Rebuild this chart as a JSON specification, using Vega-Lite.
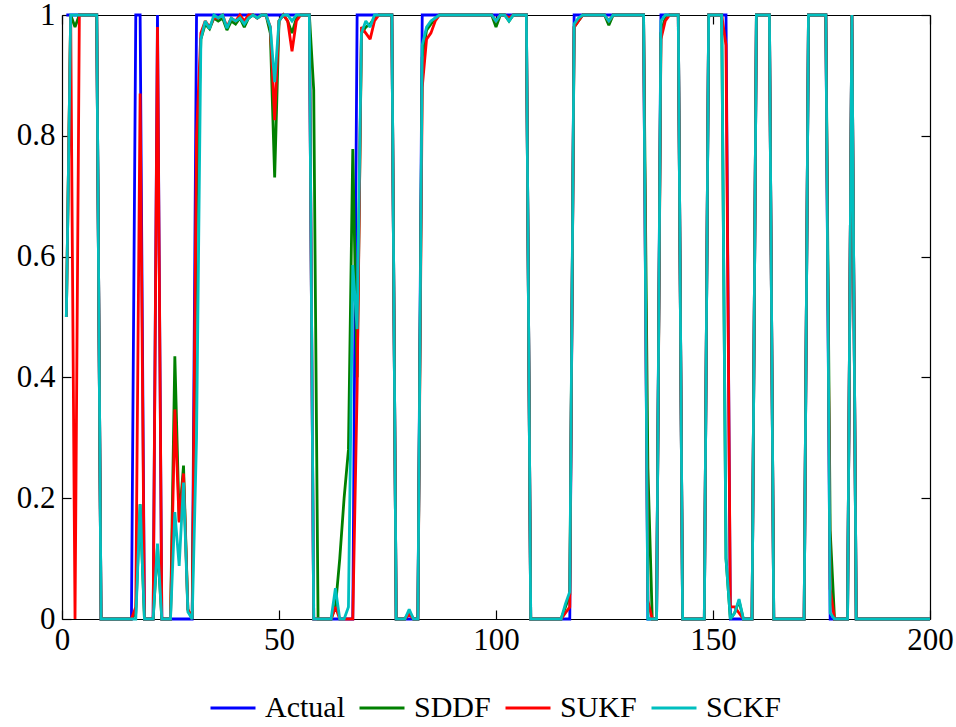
{
  "$schema": "https://vega.github.io/schema/vega-lite/v6.json",
  "autosize": "none",
  "width": 868,
  "height": 604,
  "padding": {"left": 62, "top": 15, "right": 26, "bottom": 108},
  "background": "white",
  "config": {
    "view": {"stroke": null},
    "font": "Liberation Serif",
    "axis": {"labelFont": "Liberation Serif", "labelFontSize": 31, "labelColor": "black", "domainColor": "black", "tickColor": "black", "domainWidth": 1.2, "tickWidth": 1.2, "grid": false, "title": null}
  },
  "data": {"values": [
    {"x":1,"Actual":1,"SDDF":0.5,"SUKF":0.5,"SCKF":0.5},
    {"x":2,"Actual":1,"SDDF":1,"SUKF":1,"SCKF":1},
    {"x":3,"Actual":1,"SDDF":0.98,"SUKF":0,"SCKF":1},
    {"x":4,"Actual":1,"SDDF":1,"SUKF":1,"SCKF":1},
    {"x":5,"Actual":1,"SDDF":1,"SUKF":1,"SCKF":1},
    {"x":6,"Actual":1,"SDDF":1,"SUKF":1,"SCKF":1},
    {"x":7,"Actual":1,"SDDF":1,"SUKF":1,"SCKF":1},
    {"x":8,"Actual":1,"SDDF":1,"SUKF":1,"SCKF":1},
    {"x":9,"Actual":0,"SDDF":0,"SUKF":0,"SCKF":0},
    {"x":10,"Actual":0,"SDDF":0,"SUKF":0,"SCKF":0},
    {"x":11,"Actual":0,"SDDF":0,"SUKF":0,"SCKF":0},
    {"x":12,"Actual":0,"SDDF":0,"SUKF":0,"SCKF":0},
    {"x":13,"Actual":0,"SDDF":0,"SUKF":0,"SCKF":0},
    {"x":14,"Actual":0,"SDDF":0,"SUKF":0,"SCKF":0},
    {"x":15,"Actual":0,"SDDF":0,"SUKF":0,"SCKF":0},
    {"x":16,"Actual":0,"SDDF":0,"SUKF":0,"SCKF":0},
    {"x":17,"Actual":1,"SDDF":0.01,"SUKF":0.02,"SCKF":0},
    {"x":18,"Actual":1,"SDDF":0.19,"SUKF":0.87,"SCKF":0.19},
    {"x":19,"Actual":0,"SDDF":0,"SUKF":0,"SCKF":0},
    {"x":20,"Actual":0,"SDDF":0,"SUKF":0,"SCKF":0},
    {"x":21,"Actual":0,"SDDF":0,"SUKF":0,"SCKF":0},
    {"x":22,"Actual":1,"SDDF":0.12,"SUKF":0.98,"SCKF":0.125},
    {"x":23,"Actual":0,"SDDF":0,"SUKF":0,"SCKF":0},
    {"x":24,"Actual":0,"SDDF":0,"SUKF":0,"SCKF":0},
    {"x":25,"Actual":0,"SDDF":0,"SUKF":0,"SCKF":0},
    {"x":26,"Actual":0,"SDDF":0.435,"SUKF":0.347,"SCKF":0.177},
    {"x":27,"Actual":0,"SDDF":0.162,"SUKF":0.16,"SCKF":0.088},
    {"x":28,"Actual":0,"SDDF":0.254,"SUKF":0.241,"SCKF":0.226},
    {"x":29,"Actual":0,"SDDF":0.016,"SUKF":0.016,"SCKF":0.012},
    {"x":30,"Actual":0,"SDDF":0,"SUKF":0,"SCKF":0},
    {"x":31,"Actual":1,"SDDF":0.7,"SUKF":0.8,"SCKF":0.3},
    {"x":32,"Actual":1,"SDDF":0.96,"SUKF":0.97,"SCKF":0.96},
    {"x":33,"Actual":1,"SDDF":0.985,"SUKF":0.99,"SCKF":0.99},
    {"x":34,"Actual":1,"SDDF":0.977,"SUKF":0.98,"SCKF":0.977},
    {"x":35,"Actual":1,"SDDF":0.995,"SUKF":0.995,"SCKF":1},
    {"x":36,"Actual":1,"SDDF":0.99,"SUKF":0.995,"SCKF":0.995},
    {"x":37,"Actual":1,"SDDF":0.995,"SUKF":1,"SCKF":1},
    {"x":38,"Actual":1,"SDDF":0.975,"SUKF":0.98,"SCKF":0.978},
    {"x":39,"Actual":1,"SDDF":0.99,"SUKF":0.995,"SCKF":0.995},
    {"x":40,"Actual":1,"SDDF":0.985,"SUKF":0.99,"SCKF":0.99},
    {"x":41,"Actual":1,"SDDF":0.995,"SUKF":1,"SCKF":0.995},
    {"x":42,"Actual":1,"SDDF":0.98,"SUKF":0.99,"SCKF":0.985},
    {"x":43,"Actual":1,"SDDF":0.995,"SUKF":1,"SCKF":0.995},
    {"x":44,"Actual":1,"SDDF":1,"SUKF":1,"SCKF":1},
    {"x":45,"Actual":1,"SDDF":0.995,"SUKF":0.995,"SCKF":0.995},
    {"x":46,"Actual":1,"SDDF":1,"SUKF":1,"SCKF":1},
    {"x":47,"Actual":1,"SDDF":1,"SUKF":1,"SCKF":1},
    {"x":48,"Actual":1,"SDDF":0.97,"SUKF":0.98,"SCKF":0.98},
    {"x":49,"Actual":1,"SDDF":0.731,"SUKF":0.826,"SCKF":0.889},
    {"x":50,"Actual":1,"SDDF":0.99,"SUKF":0.99,"SCKF":0.99},
    {"x":51,"Actual":1,"SDDF":1,"SUKF":1,"SCKF":1},
    {"x":52,"Actual":1,"SDDF":0.99,"SUKF":0.99,"SCKF":1},
    {"x":53,"Actual":1,"SDDF":0.97,"SUKF":0.94,"SCKF":0.99},
    {"x":54,"Actual":1,"SDDF":0.995,"SUKF":0.99,"SCKF":1},
    {"x":55,"Actual":1,"SDDF":1,"SUKF":1,"SCKF":1},
    {"x":56,"Actual":1,"SDDF":1,"SUKF":1,"SCKF":1},
    {"x":57,"Actual":1,"SDDF":1,"SUKF":1,"SCKF":1},
    {"x":58,"Actual":0,"SDDF":0.876,"SUKF":0,"SCKF":0},
    {"x":59,"Actual":0,"SDDF":0,"SUKF":0,"SCKF":0},
    {"x":60,"Actual":0,"SDDF":0,"SUKF":0,"SCKF":0},
    {"x":61,"Actual":0,"SDDF":0,"SUKF":0,"SCKF":0},
    {"x":62,"Actual":0,"SDDF":0,"SUKF":0,"SCKF":0},
    {"x":63,"Actual":0,"SDDF":0.02,"SUKF":0.02,"SCKF":0.051},
    {"x":64,"Actual":0,"SDDF":0.1,"SUKF":0,"SCKF":0},
    {"x":65,"Actual":0,"SDDF":0.2,"SUKF":0,"SCKF":0},
    {"x":66,"Actual":0,"SDDF":0.28,"SUKF":0,"SCKF":0.02},
    {"x":67,"Actual":0,"SDDF":0.778,"SUKF":0,"SCKF":0.586},
    {"x":68,"Actual":1,"SDDF":0.4,"SUKF":0.38,"SCKF":0.48},
    {"x":69,"Actual":1,"SDDF":0.97,"SUKF":0.98,"SCKF":0.97},
    {"x":70,"Actual":1,"SDDF":0.98,"SUKF":0.97,"SCKF":0.99},
    {"x":71,"Actual":1,"SDDF":0.985,"SUKF":0.96,"SCKF":0.98},
    {"x":72,"Actual":1,"SDDF":0.995,"SUKF":0.99,"SCKF":1},
    {"x":73,"Actual":1,"SDDF":1,"SUKF":1,"SCKF":1},
    {"x":74,"Actual":1,"SDDF":1,"SUKF":1,"SCKF":1},
    {"x":75,"Actual":1,"SDDF":1,"SUKF":1,"SCKF":1},
    {"x":76,"Actual":1,"SDDF":1,"SUKF":1,"SCKF":1},
    {"x":77,"Actual":0,"SDDF":0,"SUKF":0,"SCKF":0},
    {"x":78,"Actual":0,"SDDF":0,"SUKF":0,"SCKF":0},
    {"x":79,"Actual":0,"SDDF":0,"SUKF":0,"SCKF":0},
    {"x":80,"Actual":0,"SDDF":0.012,"SUKF":0.008,"SCKF":0.016},
    {"x":81,"Actual":0,"SDDF":0,"SUKF":0,"SCKF":0},
    {"x":82,"Actual":0,"SDDF":0,"SUKF":0,"SCKF":0},
    {"x":83,"Actual":1,"SDDF":0.93,"SUKF":0.88,"SCKF":0.95},
    {"x":84,"Actual":1,"SDDF":0.975,"SUKF":0.96,"SCKF":0.98},
    {"x":85,"Actual":1,"SDDF":0.985,"SUKF":0.97,"SCKF":0.99},
    {"x":86,"Actual":1,"SDDF":0.995,"SUKF":0.99,"SCKF":0.995},
    {"x":87,"Actual":1,"SDDF":1,"SUKF":1,"SCKF":1},
    {"x":88,"Actual":1,"SDDF":1,"SUKF":1,"SCKF":1},
    {"x":89,"Actual":1,"SDDF":1,"SUKF":1,"SCKF":1},
    {"x":90,"Actual":1,"SDDF":1,"SUKF":1,"SCKF":1},
    {"x":91,"Actual":1,"SDDF":1,"SUKF":1,"SCKF":1},
    {"x":92,"Actual":1,"SDDF":1,"SUKF":1,"SCKF":1},
    {"x":93,"Actual":1,"SDDF":1,"SUKF":1,"SCKF":1},
    {"x":94,"Actual":1,"SDDF":1,"SUKF":1,"SCKF":1},
    {"x":95,"Actual":1,"SDDF":1,"SUKF":1,"SCKF":1},
    {"x":96,"Actual":1,"SDDF":1,"SUKF":1,"SCKF":1},
    {"x":97,"Actual":1,"SDDF":1,"SUKF":1,"SCKF":1},
    {"x":98,"Actual":1,"SDDF":1,"SUKF":1,"SCKF":1},
    {"x":99,"Actual":1,"SDDF":1,"SUKF":1,"SCKF":1},
    {"x":100,"Actual":1,"SDDF":0.98,"SUKF":0.99,"SCKF":0.99},
    {"x":101,"Actual":1,"SDDF":1,"SUKF":1,"SCKF":1},
    {"x":102,"Actual":1,"SDDF":1,"SUKF":1,"SCKF":1},
    {"x":103,"Actual":1,"SDDF":0.99,"SUKF":0.995,"SCKF":0.99},
    {"x":104,"Actual":1,"SDDF":1,"SUKF":1,"SCKF":1},
    {"x":105,"Actual":1,"SDDF":1,"SUKF":1,"SCKF":1},
    {"x":106,"Actual":1,"SDDF":1,"SUKF":1,"SCKF":1},
    {"x":107,"Actual":1,"SDDF":1,"SUKF":1,"SCKF":1},
    {"x":108,"Actual":0,"SDDF":0,"SUKF":0,"SCKF":0},
    {"x":109,"Actual":0,"SDDF":0,"SUKF":0,"SCKF":0},
    {"x":110,"Actual":0,"SDDF":0,"SUKF":0,"SCKF":0},
    {"x":111,"Actual":0,"SDDF":0,"SUKF":0,"SCKF":0},
    {"x":112,"Actual":0,"SDDF":0,"SUKF":0,"SCKF":0},
    {"x":113,"Actual":0,"SDDF":0,"SUKF":0,"SCKF":0},
    {"x":114,"Actual":0,"SDDF":0,"SUKF":0,"SCKF":0},
    {"x":115,"Actual":0,"SDDF":0,"SUKF":0,"SCKF":0},
    {"x":116,"Actual":0,"SDDF":0.02,"SUKF":0.01,"SCKF":0.025},
    {"x":117,"Actual":0,"SDDF":0.04,"SUKF":0.02,"SCKF":0.045},
    {"x":118,"Actual":1,"SDDF":0.98,"SUKF":0.98,"SCKF":0.985},
    {"x":119,"Actual":1,"SDDF":0.99,"SUKF":0.99,"SCKF":0.995},
    {"x":120,"Actual":1,"SDDF":1,"SUKF":1,"SCKF":1},
    {"x":121,"Actual":1,"SDDF":1,"SUKF":1,"SCKF":1},
    {"x":122,"Actual":1,"SDDF":1,"SUKF":1,"SCKF":1},
    {"x":123,"Actual":1,"SDDF":1,"SUKF":1,"SCKF":1},
    {"x":124,"Actual":1,"SDDF":1,"SUKF":1,"SCKF":1},
    {"x":125,"Actual":1,"SDDF":1,"SUKF":1,"SCKF":1},
    {"x":126,"Actual":1,"SDDF":0.983,"SUKF":0.99,"SCKF":0.99},
    {"x":127,"Actual":1,"SDDF":1,"SUKF":1,"SCKF":1},
    {"x":128,"Actual":1,"SDDF":1,"SUKF":1,"SCKF":1},
    {"x":129,"Actual":1,"SDDF":1,"SUKF":1,"SCKF":1},
    {"x":130,"Actual":1,"SDDF":1,"SUKF":1,"SCKF":1},
    {"x":131,"Actual":1,"SDDF":1,"SUKF":1,"SCKF":1},
    {"x":132,"Actual":1,"SDDF":1,"SUKF":1,"SCKF":1},
    {"x":133,"Actual":1,"SDDF":1,"SUKF":1,"SCKF":1},
    {"x":134,"Actual":1,"SDDF":1,"SUKF":1,"SCKF":1},
    {"x":135,"Actual":0,"SDDF":0.25,"SUKF":0.03,"SCKF":0},
    {"x":136,"Actual":0,"SDDF":0,"SUKF":0,"SCKF":0},
    {"x":137,"Actual":0,"SDDF":0,"SUKF":0,"SCKF":0},
    {"x":138,"Actual":1,"SDDF":0.97,"SUKF":0.96,"SCKF":0.99},
    {"x":139,"Actual":1,"SDDF":0.995,"SUKF":0.99,"SCKF":1},
    {"x":140,"Actual":1,"SDDF":1,"SUKF":1,"SCKF":1},
    {"x":141,"Actual":1,"SDDF":1,"SUKF":1,"SCKF":1},
    {"x":142,"Actual":1,"SDDF":1,"SUKF":1,"SCKF":1},
    {"x":143,"Actual":0,"SDDF":0,"SUKF":0,"SCKF":0},
    {"x":144,"Actual":0,"SDDF":0,"SUKF":0,"SCKF":0},
    {"x":145,"Actual":0,"SDDF":0,"SUKF":0,"SCKF":0},
    {"x":146,"Actual":0,"SDDF":0,"SUKF":0,"SCKF":0},
    {"x":147,"Actual":0,"SDDF":0,"SUKF":0,"SCKF":0},
    {"x":148,"Actual":0,"SDDF":0,"SUKF":0,"SCKF":0},
    {"x":149,"Actual":1,"SDDF":1,"SUKF":1,"SCKF":1},
    {"x":150,"Actual":1,"SDDF":1,"SUKF":1,"SCKF":1},
    {"x":151,"Actual":1,"SDDF":1,"SUKF":1,"SCKF":1},
    {"x":152,"Actual":1,"SDDF":1,"SUKF":1,"SCKF":1},
    {"x":153,"Actual":1,"SDDF":0.1,"SUKF":0.95,"SCKF":0.1},
    {"x":154,"Actual":0,"SDDF":0,"SUKF":0.02,"SCKF":0},
    {"x":155,"Actual":0,"SDDF":0.01,"SUKF":0.02,"SCKF":0.01},
    {"x":156,"Actual":0,"SDDF":0.03,"SUKF":0.01,"SCKF":0.033},
    {"x":157,"Actual":0,"SDDF":0,"SUKF":0,"SCKF":0},
    {"x":158,"Actual":0,"SDDF":0,"SUKF":0,"SCKF":0},
    {"x":159,"Actual":0,"SDDF":0,"SUKF":0,"SCKF":0},
    {"x":160,"Actual":1,"SDDF":1,"SUKF":1,"SCKF":1},
    {"x":161,"Actual":1,"SDDF":1,"SUKF":1,"SCKF":1},
    {"x":162,"Actual":1,"SDDF":1,"SUKF":1,"SCKF":1},
    {"x":163,"Actual":1,"SDDF":1,"SUKF":1,"SCKF":1},
    {"x":164,"Actual":0,"SDDF":0,"SUKF":0,"SCKF":0},
    {"x":165,"Actual":0,"SDDF":0,"SUKF":0,"SCKF":0},
    {"x":166,"Actual":0,"SDDF":0,"SUKF":0,"SCKF":0},
    {"x":167,"Actual":0,"SDDF":0,"SUKF":0,"SCKF":0},
    {"x":168,"Actual":0,"SDDF":0,"SUKF":0,"SCKF":0},
    {"x":169,"Actual":0,"SDDF":0,"SUKF":0,"SCKF":0},
    {"x":170,"Actual":0,"SDDF":0,"SUKF":0,"SCKF":0},
    {"x":171,"Actual":0,"SDDF":0,"SUKF":0,"SCKF":0},
    {"x":172,"Actual":1,"SDDF":1,"SUKF":1,"SCKF":1},
    {"x":173,"Actual":1,"SDDF":1,"SUKF":1,"SCKF":1},
    {"x":174,"Actual":1,"SDDF":1,"SUKF":1,"SCKF":1},
    {"x":175,"Actual":1,"SDDF":1,"SUKF":1,"SCKF":1},
    {"x":176,"Actual":1,"SDDF":1,"SUKF":1,"SCKF":1},
    {"x":177,"Actual":0,"SDDF":0.147,"SUKF":0.05,"SCKF":0.01},
    {"x":178,"Actual":0,"SDDF":0,"SUKF":0,"SCKF":0},
    {"x":179,"Actual":0,"SDDF":0,"SUKF":0,"SCKF":0},
    {"x":180,"Actual":0,"SDDF":0,"SUKF":0,"SCKF":0},
    {"x":181,"Actual":0,"SDDF":0,"SUKF":0,"SCKF":0},
    {"x":182,"Actual":1,"SDDF":1,"SUKF":1,"SCKF":1},
    {"x":183,"Actual":0,"SDDF":0,"SUKF":0,"SCKF":0},
    {"x":184,"Actual":0,"SDDF":0,"SUKF":0,"SCKF":0},
    {"x":185,"Actual":0,"SDDF":0,"SUKF":0,"SCKF":0},
    {"x":186,"Actual":0,"SDDF":0,"SUKF":0,"SCKF":0},
    {"x":187,"Actual":0,"SDDF":0,"SUKF":0,"SCKF":0},
    {"x":188,"Actual":0,"SDDF":0,"SUKF":0,"SCKF":0},
    {"x":189,"Actual":0,"SDDF":0,"SUKF":0,"SCKF":0},
    {"x":190,"Actual":0,"SDDF":0,"SUKF":0,"SCKF":0},
    {"x":191,"Actual":0,"SDDF":0,"SUKF":0,"SCKF":0},
    {"x":192,"Actual":0,"SDDF":0,"SUKF":0,"SCKF":0},
    {"x":193,"Actual":0,"SDDF":0,"SUKF":0,"SCKF":0},
    {"x":194,"Actual":0,"SDDF":0,"SUKF":0,"SCKF":0},
    {"x":195,"Actual":0,"SDDF":0,"SUKF":0,"SCKF":0},
    {"x":196,"Actual":0,"SDDF":0,"SUKF":0,"SCKF":0},
    {"x":197,"Actual":0,"SDDF":0,"SUKF":0,"SCKF":0},
    {"x":198,"Actual":0,"SDDF":0,"SUKF":0,"SCKF":0},
    {"x":199,"Actual":0,"SDDF":0,"SUKF":0,"SCKF":0},
    {"x":200,"Actual":0,"SDDF":0,"SUKF":0,"SCKF":0}
  ]},
  "transform": [{"fold": ["Actual", "SDDF", "SUKF", "SCKF"], "as": ["series", "value"]}],
  "layer": [
    {
      "mark": {"type": "line", "strokeWidth": 2.8, "strokeJoin": "miter", "strokeMiterLimit": 2},
      "encoding": {
        "x": {"field": "x", "type": "quantitative", "scale": {"domain": [0, 200], "nice": false},
          "axis": {"orient": "bottom", "values": [0, 50, 100, 150, 200], "tickSize": -9, "labelPadding": 15, "labelFlush": false}},
        "y": {"field": "value", "type": "quantitative", "scale": {"domain": [0, 1], "nice": false},
          "axis": {"orient": "left", "values": [0, 0.2, 0.4, 0.6, 0.8, 1], "format": "~g", "tickSize": -9, "labelPadding": 16}},
        "color": {"field": "series", "type": "nominal",
          "scale": {"domain": ["Actual", "SDDF", "SUKF", "SCKF"], "range": ["#0000ff", "#008000", "#ff0000", "#00bfbf"]},
          "legend": {"orient": "none", "legendX": 147, "legendY": 669, "direction": "horizontal", "title": null,
            "symbolType": "stroke", "symbolSize": 2025, "symbolStrokeWidth": 3, "labelFont": "Liberation Serif",
            "labelFontSize": 30, "labelColor": "black", "labelOffset": 8, "columnPadding": 8, "padding": 0, "labelLimit": 300}}
      }
    },
    {
      "mark": {"type": "rule", "opacity": 0},
      "encoding": {
        "x": {"datum": 0, "type": "quantitative", "axis": {"orient": "top", "values": [0, 50, 100, 150, 200], "labels": false, "tickSize": -9}},
        "y": {"datum": 0, "type": "quantitative", "axis": {"orient": "right", "values": [0, 0.2, 0.4, 0.6, 0.8, 1], "labels": false, "tickSize": -9}}
      }
    }
  ],
  "resolve": {"axis": {"x": "independent", "y": "independent"}}
}
